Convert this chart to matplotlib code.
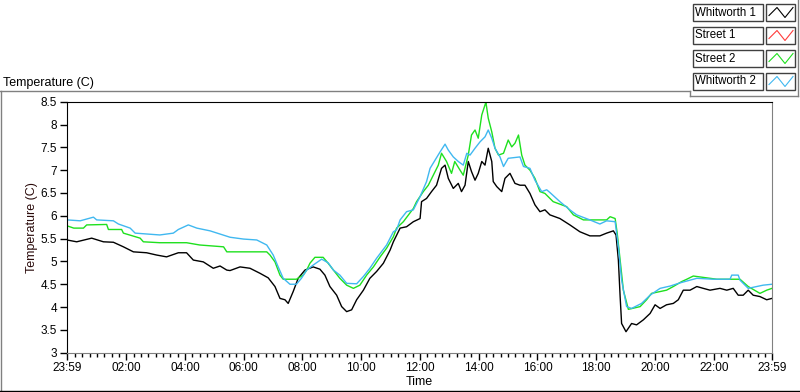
import matplotlib
matplotlib.use("Agg")
import matplotlib.pyplot as plt
from matplotlib.lines import Line2D
from matplotlib.patches import Rectangle
import numpy as np

plt.rcParams['font.family'] = ['Liberation Sans', 'DejaVu Sans']

# hours after the 23:59 start of the chart
w1_h = [0, 0.33, 0.84, 1.24, 1.58, 1.92, 2.26, 2.71, 3.05, 3.39, 3.79, 4.07, 4.30, 4.64,
        4.98, 5.21, 5.44, 5.55, 5.89, 6.23, 6.57, 6.85, 7.08, 7.25, 7.42, 7.53, 7.70, 7.87,
        8.10, 8.38, 8.61, 8.78, 8.95, 9.18, 9.35, 9.52, 9.69, 9.86, 10.09, 10.31, 10.54,
        10.77, 11.0, 11.11, 11.34, 11.56, 11.79, 12.02, 12.07, 12.24, 12.41, 12.58, 12.75,
        12.87, 12.98, 13.15, 13.32, 13.43, 13.55, 13.66, 13.77, 13.89, 14.0, 14.12, 14.23,
        14.34, 14.46, 14.51, 14.63, 14.80, 14.91, 15.08, 15.25, 15.42, 15.59, 15.76, 15.93,
        16.10, 16.27, 16.44, 16.78, 17.12, 17.46, 17.80, 18.14, 18.37, 18.60, 18.69, 18.77,
        18.83, 18.88, 19.03, 19.22, 19.39, 19.62, 19.85, 20.02, 20.19, 20.41, 20.64, 20.81,
        20.98, 21.21, 21.44, 21.66, 21.89, 22.23, 22.46, 22.68, 22.85, 23.02, 23.19, 23.36,
        23.59, 23.82, 24.0]
w1_t = [5.47, 5.43, 5.51, 5.43, 5.42, 5.32, 5.21, 5.19, 5.14, 5.10, 5.19, 5.19, 5.03, 4.99,
        4.85, 4.90, 4.81, 4.80, 4.88, 4.85, 4.74, 4.64, 4.45, 4.19, 4.16, 4.08, 4.34, 4.63,
        4.81, 4.88, 4.83, 4.70, 4.45, 4.26, 4.01, 3.90, 3.94, 4.16, 4.37, 4.63, 4.78,
        4.96, 5.25, 5.43, 5.73, 5.76, 5.87, 5.94, 6.31, 6.38, 6.53, 6.67, 7.04,
        7.11, 6.82, 6.60, 6.71, 6.53, 6.67, 7.19, 6.97, 6.78, 6.93, 7.19, 7.11,
        7.48, 7.19, 6.75, 6.64, 6.53, 6.82, 6.93, 6.71, 6.67, 6.67, 6.49, 6.24,
        6.09, 6.13, 6.02, 5.94, 5.80, 5.65, 5.56, 5.56, 5.62, 5.67, 5.58, 5.03,
        4.23, 3.64, 3.46, 3.64, 3.61, 3.72, 3.86, 4.05, 3.97, 4.05, 4.08, 4.16,
        4.37, 4.37, 4.45, 4.41, 4.37, 4.41, 4.37, 4.41, 4.26, 4.26, 4.37, 4.26,
        4.23, 4.16, 4.19]

s1_h = []
s1_t = []

s2_h = [0, 0.23, 0.56, 0.67, 1.35, 1.41, 1.86, 1.92, 2.49, 2.60, 3.16, 4.07, 4.52, 5.33,
        5.44, 6.80, 6.91, 7.08, 7.25, 7.36, 7.81, 8.04, 8.16, 8.27, 8.44, 8.72, 8.89, 9.07,
        9.29, 9.52, 9.75, 9.97, 10.20, 10.43, 10.66, 10.88, 11.11, 11.22, 11.45, 11.79,
        11.90, 12.13, 12.30, 12.47, 12.64, 12.75, 12.92, 13.09, 13.20, 13.38, 13.49, 13.66,
        13.77, 13.89, 14.0, 14.12, 14.23, 14.26, 14.34, 14.46, 14.57, 14.69, 14.86, 15.02,
        15.14, 15.25, 15.37, 15.48, 15.59, 15.76, 15.93, 16.10, 16.27, 16.55, 17.01, 17.24,
        17.58, 18.37, 18.49, 18.66, 18.73, 18.83, 18.94, 19.11, 19.51, 19.73, 19.90, 20.41,
        20.64, 20.93, 21.10, 21.32, 22.12, 22.91, 23.19, 23.59, 23.82, 24.0]
s2_t = [5.78, 5.73, 5.73, 5.80, 5.81, 5.70, 5.70, 5.62, 5.51, 5.43, 5.41, 5.41, 5.36, 5.32,
        5.21, 5.21, 5.14, 4.99, 4.70, 4.61, 4.61, 4.70, 4.81, 4.96, 5.09, 5.09, 4.96, 4.81,
        4.63, 4.48, 4.41, 4.48, 4.70, 4.88, 5.10, 5.29, 5.54, 5.73, 5.87, 6.16,
        6.31, 6.53, 6.67, 6.89, 7.11, 7.37, 7.19, 6.93, 7.19, 7.00, 6.89, 7.33,
        7.77, 7.88, 7.70, 8.21, 8.43, 8.49, 8.14, 7.84, 7.48, 7.33, 7.37, 7.66,
        7.51, 7.59, 7.77, 7.33, 7.11, 7.00, 6.82, 6.53, 6.49, 6.31, 6.20, 6.02,
        5.91, 5.91, 5.98, 5.94, 5.62, 5.03, 4.37, 3.95, 4.01, 4.16, 4.30, 4.37,
        4.45, 4.56, 4.61, 4.68, 4.61, 4.61, 4.45, 4.30, 4.37, 4.41]

w2_h = [0, 0.45, 0.90, 1.01, 1.58, 1.75, 2.15, 2.32, 3.16, 3.62, 3.79, 4.13, 4.42, 4.87,
        5.55, 6.01, 6.46, 6.80, 7.02, 7.19, 7.36, 7.59, 7.81, 7.98, 8.16, 8.38, 8.67, 8.89,
        9.07, 9.29, 9.52, 9.86, 10.09, 10.31, 10.54, 10.88, 11.11, 11.22, 11.34, 11.56,
        11.79, 12.02, 12.24, 12.36, 12.53, 12.70, 12.87, 12.98, 13.15, 13.32, 13.49, 13.61,
        13.72, 13.89, 14.06, 14.23, 14.34, 14.46, 14.57, 14.74, 14.86, 15.02, 15.42, 15.54,
        15.76, 15.93, 16.16, 16.33, 16.44, 16.78, 17.12, 17.35, 17.80, 18.14, 18.37, 18.66,
        18.77, 18.88, 19.05, 19.22, 19.56, 19.85, 20.19, 20.53, 20.87, 21.44, 22.0, 22.57,
        22.63, 22.85, 22.91, 23.19, 23.48, 23.70, 24.0]
w2_t = [5.91, 5.89, 5.97, 5.91, 5.89, 5.82, 5.73, 5.62, 5.58, 5.62, 5.70, 5.80, 5.73, 5.67,
        5.53, 5.49, 5.47, 5.36, 5.14, 4.88, 4.63, 4.50, 4.50, 4.63, 4.81, 4.92, 5.05, 4.97,
        4.81, 4.70, 4.52, 4.51, 4.67, 4.85, 5.07, 5.36, 5.65, 5.69, 5.91, 6.09,
        6.13, 6.42, 6.75, 7.04, 7.22, 7.40, 7.57, 7.44, 7.29, 7.19, 7.11, 7.37,
        7.33, 7.48, 7.62, 7.73, 7.88, 7.70, 7.48, 7.29, 7.08, 7.26, 7.29, 7.08,
        7.04, 6.78, 6.53, 6.57, 6.51, 6.31, 6.13, 6.02, 5.91, 5.82, 5.89, 5.87,
        5.32, 4.59, 4.01, 3.97, 4.08, 4.26, 4.41, 4.46, 4.53, 4.63, 4.61, 4.61,
        4.70, 4.70, 4.59, 4.41, 4.45, 4.48, 4.50]

names = ['Whitworth 1', 'Street 1', 'Street 2', 'Whitworth 2']
colors = ['#000000', '#ff3c3c', '#1ee01e', '#40b8f0']
series = [(w1_h, w1_t), (s1_h, s1_t), (s2_h, s2_t), (w2_h, w2_t)]

W, H = 800, 392
fig = plt.figure(figsize=(8, 3.92), dpi=100)
ax = fig.add_axes([67 / W, 1 - 352.7 / H, (772 - 67) / W, (352.7 - 101.7) / H])

for (hx, ty), c in zip(series, colors):
    ax.plot(hx, ty, color=c, lw=1.0)

ax.set_xlim(0, 24)
ax.set_ylim(3, 8.5)
ax.set_yticks(np.arange(3, 8.51, 0.5))
ax.set_yticklabels(['3', '3.5', '4', '4.5', '5', '5.5', '6', '6.5', '7', '7.5', '8', '8.5'])
major = [0] + [hh + 1 / 60 for hh in range(2, 23, 2)] + [24]
ax.set_xticks(major)
ax.set_xticklabels(['23:59'] + ['%02d:00' % hh for hh in range(2, 23, 2)] + ['23:59'])
ax.set_xticks([k * 0.25 + 1 / 60 for k in range(1, 96)], minor=True)
ax.tick_params(axis='both', which='major', length=5, width=1, labelsize=8.5, pad=2)
ax.tick_params(axis='x', which='minor', length=3, width=1)

for side in ['left', 'top']:
    ax.spines[side].set_color('black')
for side in ['right', 'bottom']:
    ax.spines[side].set_color('#808080')

ax.set_xlabel('Time', fontsize=9, labelpad=1)
ax.set_ylabel('Temperature (C)', fontsize=9, color='#2a0a0a', labelpad=2)
fig.text(3 / W, 1 - 86 / H, 'Temperature (C)', fontsize=9)


def fx(x):
    return x / W


def fy(y):
    return 1 - y / H


# frame lines
fig.add_artist(Line2D([fx(0), fx(690)], [fy(91), fy(91)], color='#808080', lw=1))
fig.add_artist(Line2D([fx(0.5), fx(0.5)], [fy(91), fy(392)], color='#808080', lw=1))
fig.add_artist(Line2D([fx(0), fx(800)], [fy(391), fy(391)], color='black', lw=1))
fig.add_artist(Line2D([fx(690), fx(690)], [fy(91), fy(96)], color='#808080', lw=1))
fig.add_artist(Line2D([fx(690), fx(798)], [fy(96), fy(96)], color='#808080', lw=1))
fig.add_artist(Line2D([fx(798), fx(798)], [fy(0), fy(96)], color='#808080', lw=1))

# legend
for i, (nm, c) in enumerate(zip(names, colors)):
    top = 4.5 + i * 23
    fig.add_artist(Rectangle((fx(693), fy(top + 16)), 70 / W, 16 / H,
                             facecolor='white', edgecolor='#404040', lw=1))
    fig.text(fx(695), fy(top + 8), nm, fontsize=8.3, va='center')
    fig.add_artist(Rectangle((fx(766), fy(top + 16)), 29 / W, 16 / H,
                             facecolor='white', edgecolor='#404040', lw=1))
    fig.add_artist(Line2D([fx(769), fx(777), fx(785), fx(793)],
                          [fy(top + 11), fy(top + 3), fy(top + 13), fy(top + 3)],
                          color=c, lw=0.8))

fig.savefig('out.png', dpi=100)
